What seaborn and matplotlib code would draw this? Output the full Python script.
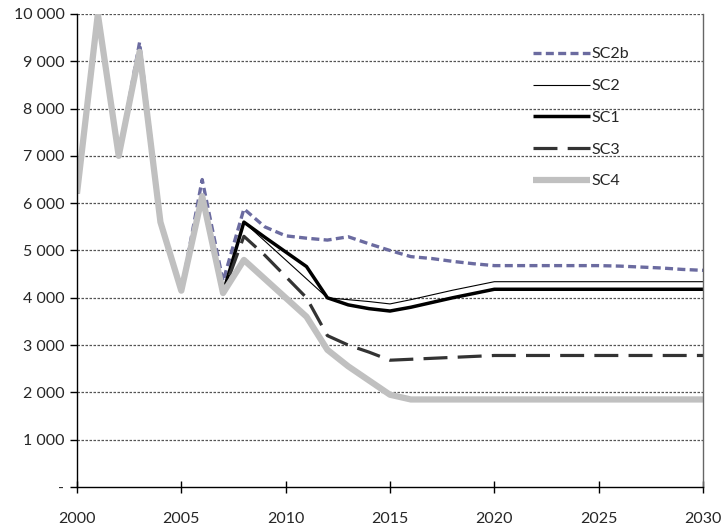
import matplotlib
matplotlib.use("Agg")
import matplotlib.pyplot as plt
import seaborn as sns
import pandas as pd

years = list(range(2000, 2031))

common = [6200, 10000, 7000, 9200, 5600, 4150, 6150, 4100]

sc2b = [6200, 10000, 7000, 9400, 5650, 4150, 6500, 4350,
        5880, 5500, 5310, 5260, 5220, 5290, 5140, 5000, 4870, 4830, 4770, 4720, 4680,
        4680, 4680, 4680, 4680, 4680, 4670, 4650, 4630, 4600, 4580]
sc2 = common + [5600, 5200, 4800, 4400, 4000, 3960, 3920, 3870, 3960, 4060, 4160, 4250, 4340,
                4340, 4340, 4340, 4340, 4340, 4340, 4340, 4340, 4340, 4340]
sc1 = common + [5600, 5280, 4970, 4660, 4000, 3850, 3770, 3720, 3800, 3900, 4000, 4090, 4180,
                4180, 4180, 4180, 4180, 4180, 4180, 4180, 4180, 4180, 4180]
sc3 = common + [5300, 4900, 4450, 4000, 3200, 3000, 2850, 2680, 2700, 2720, 2740, 2760, 2780,
                2780, 2780, 2780, 2780, 2780, 2780, 2780, 2780, 2780, 2780]
sc4 = common + [4800, 4400, 4000, 3600, 2900, 2550, 2250, 1950, 1850, 1850, 1850, 1850, 1850,
                1850, 1850, 1850, 1850, 1850, 1850, 1850, 1850, 1850, 1850]

series_names = ["SC2b", "SC2", "SC1", "SC3", "SC4"]
series_values = [sc2b, sc2, sc1, sc3, sc4]

y_ticks = [0, 1000, 2000, 3000, 4000, 5000, 6000, 7000, 8000, 9000, 10000]
y_labels = ["-", "1 000", "2 000", "3 000", "4 000", "5 000", "6 000", "7 000", "8 000", "9 000", "10 000"]
x_ticks = [2000, 2005, 2010, 2015, 2020, 2025, 2030]

styles = {
    "SC2b": dict(color="#6b6ba0", lw=2.4, dashes=(2.4, 1.3)),
    "SC2": dict(color="#000000", lw=0.8, dashes=None),
    "SC1": dict(color="#000000", lw=2.5, dashes=None),
    "SC3": dict(color="#333333", lw=2.3, dashes=(7.5, 3.2)),
    "SC4": dict(color="#c0c0c0", lw=4.5, dashes=None),
}

sns.set_theme(style="white")
plt.rcParams["font.family"] = ["Lato", "DejaVu Sans"]

fig = plt.figure(figsize=(7.22, 5.28), dpi=100)
ax = fig.add_axes([0.1066, 0.0777, 0.8671, 0.8958])

df = pd.DataFrame({"year": years})
for name, vals in zip(series_names, series_values):
    df[name] = vals

for name in series_names:
    st = styles[name]
    sns.lineplot(data=df, x="year", y=name, ax=ax, color=st["color"], lw=st["lw"],
                 label=name, solid_capstyle="butt", dash_capstyle="butt")
    l = ax.get_lines()[-1]
    if st["dashes"] is not None:
        l.set_dashes(st["dashes"])

ax.set_xlim(2000, 2030)
ax.set_ylim(0, 10000)
ax.set_xticks(x_ticks)
ax.set_yticks(y_ticks)
ax.set_yticklabels(y_labels)
ax.set_xlabel("")
ax.set_ylabel("")

for yv in y_ticks[1:]:
    ax.axhline(yv, color="#555555", lw=0.9, ls=(0, (2.0, 1.2)), zorder=0)

ax.spines["top"].set_visible(False)
ax.spines["left"].set_color("black")
ax.spines["bottom"].set_color("black")
ax.spines["right"].set_color("#666666")
for s in ["left", "bottom", "right"]:
    ax.spines[s].set_linewidth(1.0)

ax.tick_params(axis="x", direction="inout", length=8, width=1, color="black",
               labelsize=11.5, pad=14, bottom=True)
ax.tick_params(axis="y", direction="out", length=5, width=1, color="black",
               labelsize=11.5, pad=4, left=True)

ax.legend(loc="upper left", bbox_to_anchor=(0.705, 0.96), frameon=False,
          fontsize=11.5, handlelength=3.6, handletextpad=0.1, labelspacing=1.1)

fig.savefig("out.png", dpi=100)
